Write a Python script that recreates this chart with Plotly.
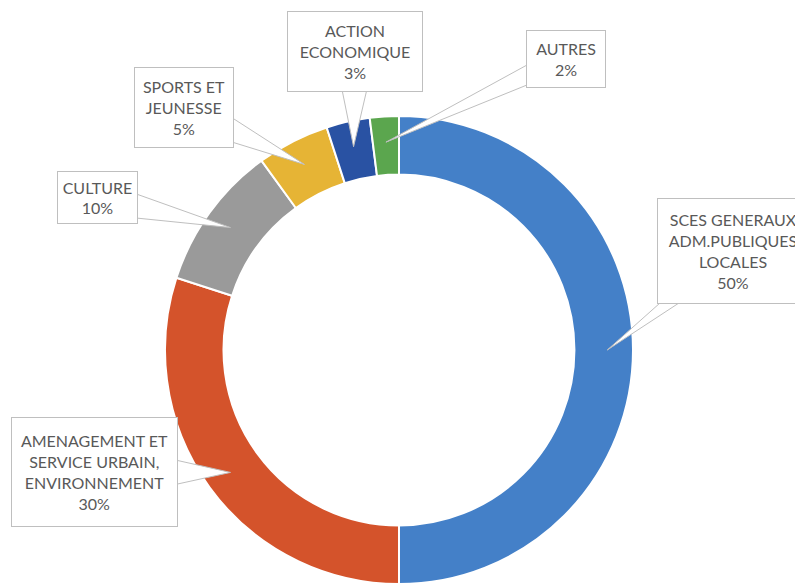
import math
import plotly.graph_objects as go

labels = ["SCES GENERAUX<br>ADM.PUBLIQUES<br>LOCALES",
          "AMENAGEMENT ET<br>SERVICE URBAIN,<br>ENVIRONNEMENT",
          "CULTURE",
          "SPORTS ET<br>JEUNESSE",
          "ACTION<br>ECONOMIQUE",
          "AUTRES"]
values = [50, 30, 10, 5, 3, 2]
colors = ["#4480C8", "#D4532B", "#9A9A9A", "#E6B435", "#2952A3", "#5BA64E"]

# page offset (browser body margin) and callout boxes in page pixels
OFF = 8
box_centers = [(733, 251), (94, 472), (97, 197), (184, 107), (355, 52), (566, 59)]
box_sizes = [(150, 104), (165, 108), (79, 51), (98, 79), (134, 79), (78, 56)]

W, H = 803 - OFF, 584 - OFF
CX, CY, R = 399 - OFF, 350 - OFF, 234
TIP_R = 0.89 * R
HALF_BASE = 12

fig = go.Figure(go.Pie(
    labels=labels,
    values=values,
    hole=0.75,
    sort=False,
    direction="clockwise",
    rotation=0,
    marker=dict(colors=colors, line=dict(color="#FFFFFF", width=2)),
    textinfo="none",
    hoverinfo="label+percent",
    showlegend=False,
    domain=dict(x=[(CX - R) / W, (CX + R) / W], y=[1 - (CY + R) / H, 1 - (CY - R) / H]),
))


def px(x, y):
    return f"{x / W:.5f},{1 - y / H:.5f}"


total = sum(values)
cum = 0
annotations = []
shapes = []
for lab, v, (bx, by), (bw, bh) in zip(labels, values, box_centers, box_sizes):
    mid = (cum + v / 2) / total * 2 * math.pi
    cum += v
    tx = CX + TIP_R * math.sin(mid)
    ty = CY - TIP_R * math.cos(mid)
    bx -= OFF
    by -= OFF
    # intersection of ray box-centre -> tip with the box outline
    dx, dy = tx - bx, ty - by
    sx = (bw / 2) / abs(dx) if dx else 1e9
    sy = (bh / 2) / abs(dy) if dy else 1e9
    if sx < sy:
        ex = bx + math.copysign(bw / 2, dx)
        ey = by + dy * sx
        lo, hi = by - bh / 2 + 2, by + bh / 2 - 2
        b1 = (ex, max(lo, ey - HALF_BASE))
        b2 = (ex, min(hi, ey + HALF_BASE))
    else:
        ey = by + math.copysign(bh / 2, dy)
        ex = bx + dx * sy
        lo, hi = bx - bw / 2 + 2, bx + bw / 2 - 2
        b1 = (max(lo, ex - HALF_BASE), ey)
        b2 = (min(hi, ex + HALF_BASE), ey)
    shapes.append(dict(
        type="path", xref="paper", yref="paper",
        path=f"M{px(*b1)} L{px(tx, ty)} L{px(*b2)} Z",
        fillcolor="#FFFFFF", line=dict(color="#BFBFBF", width=1), layer="above",
    ))
    pct = round(v / total * 100)
    annotations.append(dict(
        x=bx / W, y=1 - by / H, xref="paper", yref="paper",
        xanchor="center", yanchor="middle",
        text=f"{lab}<br>{pct}%",
        showarrow=False,
        bordercolor="#BFBFBF", borderwidth=1, borderpad=0,
        bgcolor="#FFFFFF", width=bw, height=bh,
        font=dict(family="Lato, sans-serif", size=16, color="#595959"),
        align="center", valign="middle",
    ))

fig.update_layout(
    width=W, height=H,
    margin=dict(l=0, r=0, t=0, b=0),
    paper_bgcolor="#FFFFFF",
    plot_bgcolor="#FFFFFF",
    annotations=annotations,
    shapes=shapes,
)

fig.write_html("out.html")
